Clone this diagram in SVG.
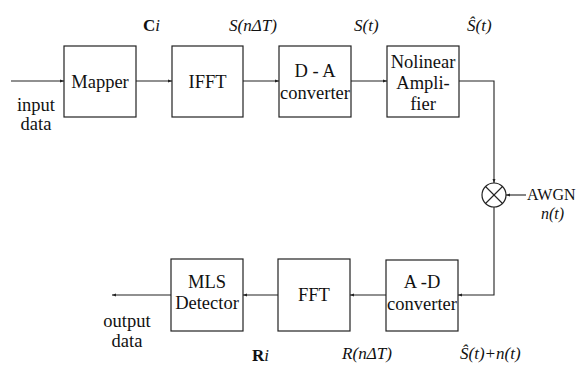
<svg xmlns="http://www.w3.org/2000/svg" width="585" height="365" viewBox="0 0 585 365">
<style>
.box{fill:#fff;stroke:#222;stroke-width:1.2}
.ln{fill:none;stroke:#222;stroke-width:1.1}
.t{font-family:"Liberation Serif","Times New Roman","DejaVu Serif",serif;font-size:18.5px;fill:#111;text-anchor:middle}
.l{font-family:"Liberation Serif","Times New Roman","DejaVu Serif",serif;font-size:17px;fill:#111}
.s{font-size:16px}
.i{font-style:italic}
.b{font-weight:bold}
</style>
<defs>
<marker id="ah" viewBox="0 0 6 6" refX="6" refY="3" markerWidth="4" markerHeight="4" orient="auto" markerUnits="userSpaceOnUse">
<path d="M0,0.8 L6,3 L0,5.2 z" fill="#222"/>
</marker>
</defs>
<g id="connectors">
<line class="ln" x1="11" y1="81" x2="64" y2="81" marker-end="url(#ah)"/>
<line class="ln" x1="136" y1="81" x2="172" y2="81" marker-end="url(#ah)"/>
<line class="ln" x1="243" y1="81" x2="279" y2="81" marker-end="url(#ah)"/>
<line class="ln" x1="351" y1="81" x2="387" y2="81" marker-end="url(#ah)"/>
<polyline class="ln" points="459,81 494,81 494,183" marker-end="url(#ah)"/>
<line class="ln" x1="526" y1="195" x2="506" y2="195" marker-end="url(#ah)"/>
<polyline class="ln" points="494,207 494,295 458,295" marker-end="url(#ah)"/>
<line class="ln" x1="386" y1="295" x2="350" y2="295" marker-end="url(#ah)"/>
<line class="ln" x1="278" y1="295" x2="243" y2="295" marker-end="url(#ah)"/>
<line class="ln" x1="171" y1="295" x2="112" y2="295" marker-end="url(#ah)"/>
</g>
<g id="mapper">
<rect class="box" x="64" y="46" width="72" height="71"/>
<text class="t" x="100" y="88">Mapper</text>
</g>
<g id="ifft">
<rect class="box" x="172" y="46" width="71" height="71"/>
<text class="t" x="207.5" y="88">IFFT</text>
</g>
<g id="da">
<rect class="box" x="279" y="46" width="72" height="71"/>
<text class="t" x="315" y="77">D - A</text>
<text class="t" x="315" y="99">converter</text>
</g>
<g id="amp">
<rect class="box" x="387" y="46" width="72" height="71"/>
<text class="t" x="423" y="68">Nolinear</text>
<text class="t" x="423" y="89">Ampli-</text>
<text class="t" x="423" y="110">fier</text>
</g>
<g id="mixer">
<circle cx="494" cy="195" r="12" fill="#fff" stroke="#222" stroke-width="1.2"/>
<line class="ln" x1="485.5" y1="186.5" x2="502.5" y2="203.5"/>
<line class="ln" x1="502.5" y1="186.5" x2="485.5" y2="203.5"/>
</g>
<g id="mls">
<rect class="box" x="171" y="259" width="72" height="72"/>
<text class="t" x="207" y="288">MLS</text>
<text class="t" x="207" y="309">Detector</text>
</g>
<g id="fft">
<rect class="box" x="278" y="259" width="72" height="72"/>
<text class="t" x="314" y="301">FFT</text>
</g>
<g id="ad">
<rect class="box" x="386" y="260" width="72" height="71"/>
<text class="t" x="422" y="288">A -D</text>
<text class="t" x="422" y="310">converter</text>
</g>
<g id="labels">
<text class="t" x="36" y="111">input</text>
<text class="t" x="36" y="130">data</text>
<text class="t" x="127" y="327">output</text>
<text class="t" x="127" y="347">data</text>
<text class="l" x="143" y="31"><tspan class="b">C</tspan><tspan class="i">i</tspan></text>
<text class="l i" x="229" y="31" textLength="48" lengthAdjust="spacingAndGlyphs">S(nΔT)</text>
<text class="l i" x="354" y="31">S(t)</text>
<text class="l i" x="467" y="31">Ŝ(t)</text>
<text class="l s" x="527" y="200">AWGN</text>
<text class="l i s" x="541" y="219">n(t)</text>
<text class="l" x="252" y="361"><tspan class="b">R</tspan><tspan class="i">i</tspan></text>
<text class="l i" x="342" y="359" textLength="50" lengthAdjust="spacingAndGlyphs">R(nΔT)</text>
<text class="l i" x="460" y="359">Ŝ(t)+n(t)</text>
</g>
</svg>
